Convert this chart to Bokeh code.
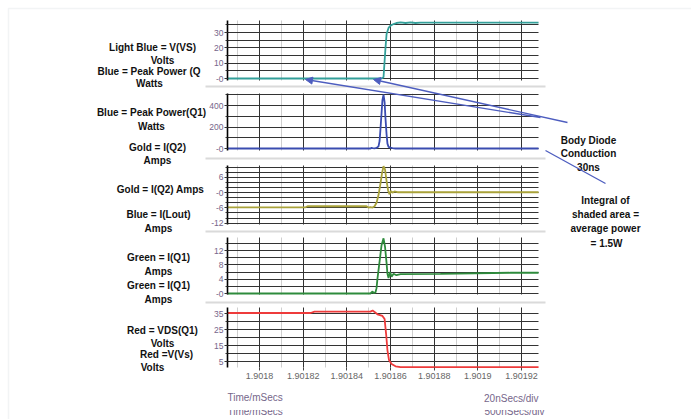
from bokeh.plotting import figure
from bokeh.models import (Range1d, LinearAxis, FixedTicker, CustomJSTickFormatter, Grid,
                          Label, Arrow, NormalHead, BoxAnnotation)
from bokeh.embed import file_html
from bokeh.resources import INLINE

# ---------------- data (time in mSecs) ----------------
X_TICKS = [1.9018, 1.90182, 1.90184, 1.90186, 1.90188, 1.9019, 1.90192]
X_MINOR = [1.90179, 1.90181, 1.90183, 1.90185, 1.90187, 1.90189, 1.90191]
T_LEFT, T_RIGHT = 1.9017853, 1.9019278

vs_t = [1.9017853, 1.9018559, 1.9018568, 1.9018577, 1.9018582, 1.9018591, 1.9018600,
        1.9018614, 1.9018627, 1.9018646, 1.9018669, 1.9018692, 1.9018714, 1.9018737, 1.9019278]
vs_v = [0, 0, 0.8, 20, 29, 33, 34.5, 35.5, 36.2, 36.6, 36.2, 36.6, 36.2, 36.5, 36.4]

pw_t = [1.9017853, 1.9018508, 1.9018513, 1.9018518, 1.9018527, 1.9018536, 1.9018545,
        1.9018550, 1.9018554, 1.9018559, 1.9018563, 1.9018568, 1.9018573, 1.9018577,
        1.9018582, 1.9018586, 1.9018591, 1.9018600, 1.9018609, 1.9018623, 1.9019278]
pw_v = [0, 0, 6, 3, 2, 5, 20, 70, 180, 330, 450, 500, 430, 280, 130, 45, 15, 8, 4, 0, 0]

q2_t = [1.9017853, 1.9018211, 1.9018220, 1.9018490, 1.9018499, 1.9018508, 1.9018518,
        1.9018527, 1.9018536, 1.9018545, 1.9018554, 1.9018561, 1.9018568, 1.9018575,
        1.9018582, 1.9018589, 1.9018595, 1.9018602, 1.9018609, 1.9018618, 1.9018632, 1.9019278]
q2_v = [-5.8, -5.8, -5.4, -5.4, -5.9, -5.7, -5.9, -5.4, -4.0, -1.0, 3.5, 7.5, 10.3, 9.0,
        4.5, 0.8, -0.7, 0.6, -0.1, 0.4, 0.1, 0.1]

q1_t = [1.9017853, 1.9018508, 1.9018518, 1.9018522, 1.9018531, 1.9018536, 1.9018540,
        1.9018550, 1.9018559, 1.9018568, 1.9018575, 1.9018582, 1.9018586, 1.9018591,
        1.9018598, 1.9018605, 1.9018614, 1.9018627, 1.9018646, 1.9018829, 1.9019150, 1.9019278]
q1_v = [0, 0, 0.6, 0.1, 0.3, 1.5, 4, 9, 13.5, 15.4, 13, 8.5, 5.5, 4.3, 6.0, 4.7, 5.5,
        5.1, 5.4, 5.5, 5.8, 5.8]

vds_t = [1.9017853, 1.9018234, 1.9018252, 1.9018508, 1.9018518, 1.9018527, 1.9018540,
         1.9018563, 1.9018573, 1.9018580, 1.9018586, 1.9018593, 1.9018605, 1.9018623,
         1.9018646, 1.9019278]
vds_v = [35.3, 35.3, 36.2, 36.2, 36.9, 36.0, 34.5, 33.5, 31.5, 22, 12, 6, 3.5, 2.0, 1.5, 1.5]

# ---------------- layout (pixels) ----------------
W, H = 691, 419
X_REF_PX, X_PX_PER_STEP, X_STEP = 259.0, 43.67, 0.00002   # where 1.9018 sits
X0 = X_TICKS[0] - X_REF_PX * X_STEP / X_PX_PER_STEP
X1 = X_TICKS[0] + (W - X_REF_PX) * X_STEP / X_PX_PER_STEP
AXIS_PX = 227      # left axis position (px)
XAXIS_PX = 367     # bottom of last panel (px)

# name, px_top, px_bot, ref_px, ref_val, px_per_unit, majors, grid lines
PANELS = [
    ("vs", 20, 80, 78, 0, 46 / 30, [0, 10, 20, 30], list(range(0, 40, 5))),
    ("pw", 93, 150, 148, 0, 43 / 400, [0, 200, 400], list(range(0, 600, 100))),
    ("q2", 165, 224, 192, 0, 2.55, [-12, -6, 0, 6], list(range(-12, 12, 2))),
    ("q1", 237, 294, 293, 0, 3.58, [0, 4, 8, 12], list(range(0, 16, 2))),
    ("vds", 307, 367, 313, 35, 1.6, [5, 15, 25, 35], list(range(5, 40, 5))),
]
TRACES = {
    "vs": (vs_t, vs_v, "#34a09a"),
    "pw": (pw_t, pw_v, "#3a4cb0"),
    "q2": (q2_t, q2_v, "#a9a23a"),
    "q1": (q1_t, q1_v, "#2e8b3c"),
    "vds": (vds_t, vds_v, "#ee3b3b"),
}


def val_at(px, ref_px, ref_val, s):
    return ref_val + (ref_px - px) / s


p = figure(width=W, height=H, output_backend="svg", toolbar_location=None,
           x_range=Range1d(X0, X1), y_range=Range1d(H, 0),
           x_axis_location=None, y_axis_location=None,
           min_border_left=0, min_border_right=0, min_border_top=0, min_border_bottom=0)
p.title.visible = False
p.outline_line_color = None
p.background_fill_color = "white"
p.border_fill_color = "white"
for g in p.grid:
    g.visible = False

p.extra_x_ranges = {"px": Range1d(0, W)}
extra = {}
for name, top, bot, rp, rv, s, majors, grids in PANELS:
    extra[name] = Range1d(val_at(H, rp, rv, s), val_at(0, rp, rv, s))
p.extra_y_ranges = extra

yfmt = CustomJSTickFormatter(code="return tick == 0 ? '-0' : String(tick);")
T_AXIS = X0 + AXIS_PX * X_STEP / X_PX_PER_STEP

for name, top, bot, rp, rv, s, majors, grids in PANELS:
    lo, hi = val_at(bot, rp, rv, s), val_at(top, rp, rv, s)
    p.add_layout(Grid(dimension=0, y_range_name=name,
                      ticker=FixedTicker(ticks=X_TICKS, minor_ticks=X_MINOR),
                      grid_line_color="#333333", grid_line_width=1,
                      minor_grid_line_color="#cfcfcf", minor_grid_line_width=1,
                      cross_bounds=(lo, hi)))
    p.add_layout(Grid(dimension=1, y_range_name=name,
                      ticker=FixedTicker(ticks=grids),
                      grid_line_color="#333333", grid_line_width=1,
                      cross_bounds=(T_LEFT, T_RIGHT)))
    ax = LinearAxis(y_range_name=name,
                    ticker=FixedTicker(ticks=majors, minor_ticks=grids),
                    bounds=(lo, hi), fixed_location=T_AXIS, formatter=yfmt,
                    axis_line_color="black", axis_line_width=1.6,
                    major_tick_in=0, major_tick_out=3, minor_tick_in=0, minor_tick_out=2,
                    major_tick_line_color="#333", minor_tick_line_color="#333",
                    major_label_text_font="Liberation Sans",
                    major_label_text_font_size="8.5px",
                    major_label_text_color="#76668a", major_label_standoff=1)
    p.add_layout(ax, "left")
    t, v, c = TRACES[name]
    p.line(t, v, y_range_name=name, line_color=c, line_width=1.8)

xax = LinearAxis(ticker=FixedTicker(ticks=X_TICKS, minor_ticks=[]),
                 formatter=CustomJSTickFormatter(code="return tick.toFixed(5).replace(/0+$/, '');"),
                 fixed_location=XAXIS_PX, bounds=(T_LEFT, T_RIGHT),
                 axis_line_color=None, major_tick_out=3, major_tick_in=0,
                 minor_tick_out=0, minor_tick_in=0, major_tick_line_color="#444",
                 major_label_text_font="Liberation Sans",
                 major_label_text_font_size="9px", major_label_text_color="#666",
                 major_label_standoff=2)
p.add_layout(xax, "below")

# separators between panels
for ys in [86, 158, 231, 302]:
    p.add_layout(BoxAnnotation(left=205, right=545, top=ys - 1, bottom=ys + 1,
                               x_range_name="px", fill_color="#dadada", fill_alpha=1,
                               line_color=None))

# outer frame border
p.add_layout(BoxAnnotation(left=8, right=760, top=8, bottom=470, x_range_name="px",
                           fill_color=None, line_color="#d3d9df", line_width=1.5))

# left labels
LEFT_LABELS = [
    ("Light Blue = V(VS)", 152, 47), ("Volts", 162, 60),
    ("Watts", 149, 83),
    ("Blue = Peak Power(Q1)", 151, 112), ("Watts", 151, 126),
    ("Gold = I(Q2)", 157, 147), ("Amps", 157, 160),
    ("Gold = I(Q2) Amps", 160, 189),
    ("Blue = I(Lout)", 158, 214), ("Amps", 158, 228),
    ("Green = I(Q1)", 158, 257), ("Amps", 158, 271),
    ("Green = I(Q1)", 158, 285), ("Amps", 158, 299),
    ("Red = VDS(Q1)", 162, 330), ("Volts", 162, 343),
    ("Red =V(Vs)", 166, 354), ("Volts", 152, 367),
]
bold = dict(x_range_name="px", text_font="Liberation Sans", text_font_style="bold",
            text_font_size="10px", text_color="#111111", text_baseline="middle")
for txt, x, y in LEFT_LABELS:
    p.add_layout(Label(x=x, y=y, text=txt, text_align="center", **bold))
p.add_layout(Label(x=97, y=71, text="Blue = Peak Power (Q", text_align="left", **bold))

RIGHT_LABELS = [
    ("Body Diode", 588, 140), ("Conduction", 588, 153), ("30ns", 588, 167),
    ("Integral of", 605, 200), ("shaded area =", 605, 214),
    ("average power", 605, 228), ("= 1.5W", 606, 243),
]
for txt, x, y in RIGHT_LABELS:
    p.add_layout(Label(x=x, y=y, text=txt, text_align="center", **bold))

# arrows
AC = "#4d5dbf"
p.add_layout(Arrow(x_start=567, y_start=122, x_end=373, y_end=79, x_range_name="px",
                   line_color=AC, line_width=1.3,
                   end=NormalHead(size=7, fill_color=AC, line_color=AC)))
p.add_layout(Arrow(x_start=540, y_start=117, x_end=305, y_end=79, x_range_name="px",
                   line_color=AC, line_width=1.3,
                   end=NormalHead(size=7, fill_color=AC, line_color=AC)))
p.add_layout(Arrow(x_start=545, y_start=150, x_end=605, y_end=183, x_range_name="px",
                   line_color=AC, line_width=1.3, end=None))

# axis captions
cap = dict(x_range_name="px", text_font="Liberation Sans", text_font_size="10px",
           text_color="#76668a", text_baseline="middle")
p.add_layout(Label(x=227, y=397, text="Time/mSecs", text_align="left", **cap))
p.add_layout(Label(x=538, y=398, text="20nSecs/div", text_align="right", **cap))
p.add_layout(Label(x=227, y=411, text="Time/mSecs", text_align="left", **cap))
p.add_layout(Label(x=544, y=411, text="500nSecs/div", text_align="right", **cap))
p.add_layout(BoxAnnotation(left=220, right=550, top=404, bottom=409.5, x_range_name="px",
                           fill_color="white", fill_alpha=1, line_color=None))

open("out.html", "w").write(file_html(p, INLINE))
